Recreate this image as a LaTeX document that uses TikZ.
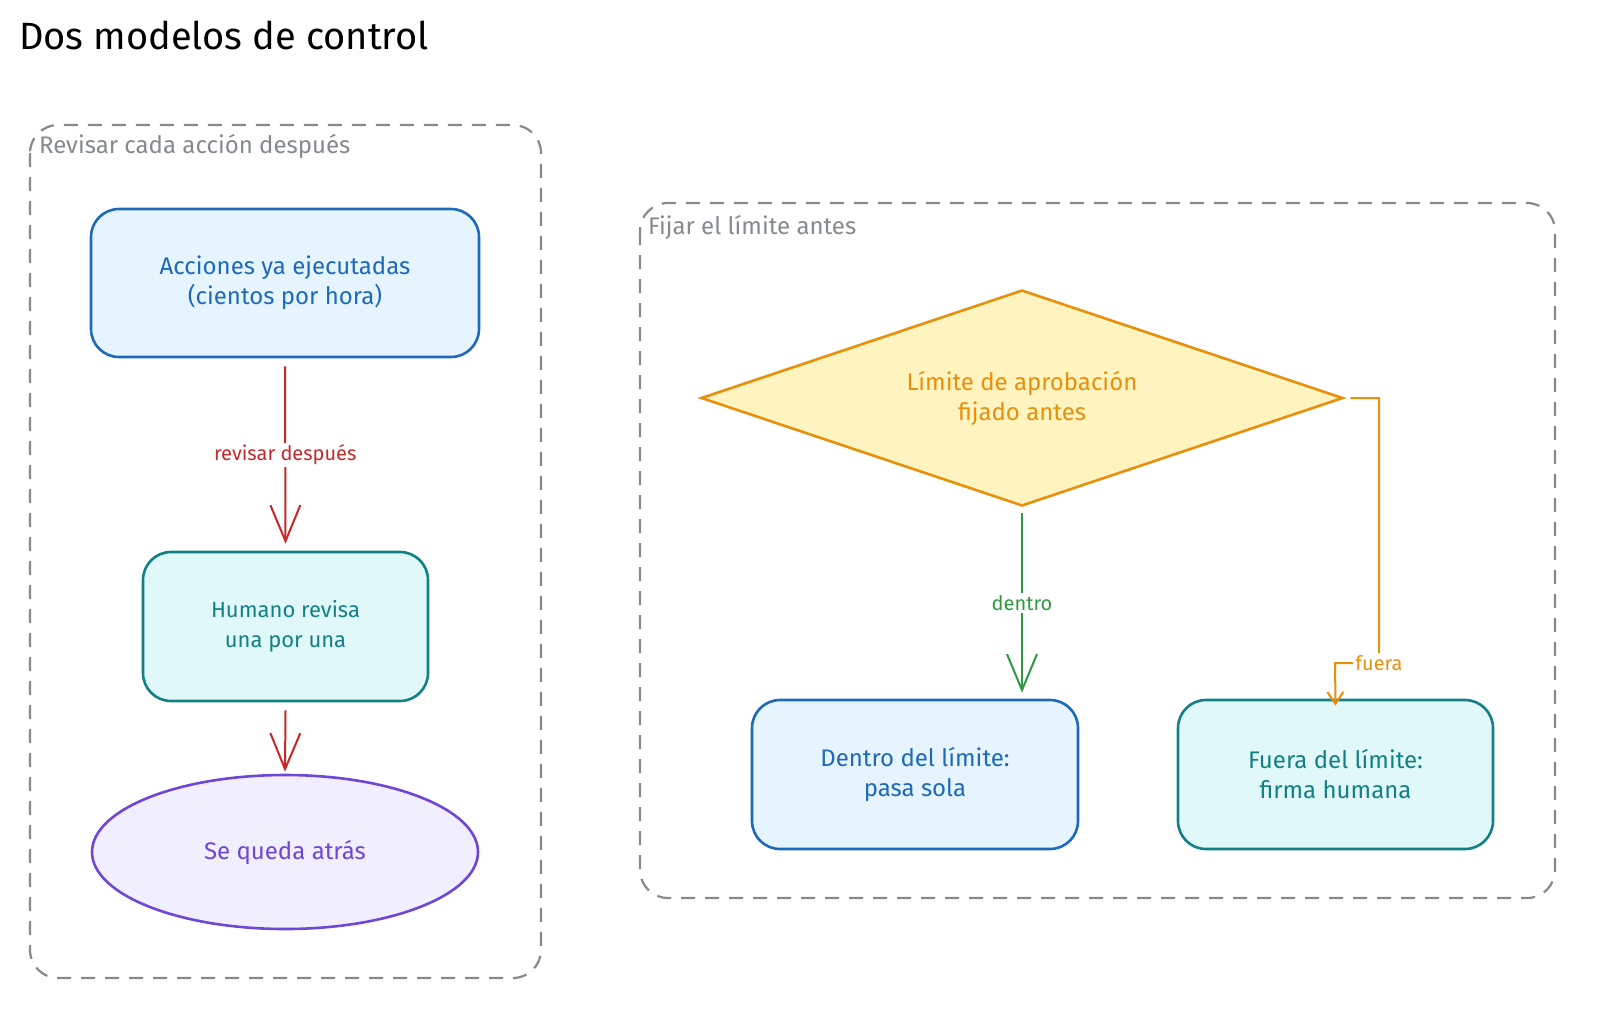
\documentclass[tikz,border=0pt]{standalone}
\usepackage{fontspec}
\setmainfont{Fira Sans}
\usetikzlibrary{shapes.geometric,arrows.meta}
\definecolor{blueS}{HTML}{1E6AB8}\definecolor{blueF}{HTML}{E6F4FD}
\definecolor{tealS}{HTML}{138086}\definecolor{tealF}{HTML}{E0F8F8}
\definecolor{purS}{HTML}{6E47D6}\definecolor{purF}{HTML}{F1EEFD}
\definecolor{orS}{HTML}{E8900C}\definecolor{orF}{HTML}{FFF3C0}
\definecolor{redS}{HTML}{C62828}\definecolor{grS}{HTML}{2E9A40}
\definecolor{grpS}{HTML}{858A90}
\tikzset{
 grp/.style={draw=grpS,dashed,dash pattern=on 7pt off 5pt,line width=1.1pt,rounded corners=14pt},
 grplbl/.style={text=grpS,anchor=west,font=\fontsize{12}{14}\selectfont},
 bluebox/.style={draw=blueS,fill=blueF,line width=1.3pt,rounded corners=14pt,text=blueS,align=center,font=\fontsize{12}{15}\selectfont},
 tealbox/.style={draw=tealS,fill=tealF,line width=1.3pt,rounded corners=14pt,text=tealS,align=center,font=\fontsize{11}{15}\selectfont},
 arr/.style={line width=1pt,-{Straight Barb[length=18pt,width=15pt]}},
 lbl/.style={fill=white,font=\fontsize{10}{12}\selectfont,inner sep=1pt}
}
\begin{document}
\begin{tikzpicture}[x=0.5pt,y=-0.5pt]
\useasboundingbox[fill=white] (0,0) rectangle (1600,1013);
\node[anchor=west,font=\fontsize{19}{22}\selectfont] (title) at (12,35) {Dos modelos de control};
\draw[grp] (30,125) rectangle (541,978);
\node[grplbl] (gl1) at (32,146) {Revisar cada acción después};
\draw[grp] (640,203) rectangle (1555,898);
\node[grplbl] (gl2) at (641,227) {Fijar el límite antes};
\node[bluebox,minimum width=194pt,minimum height=74pt] (a) at (285,283) {Acciones ya ejecutadas\\(cientos por hora)};
\node[tealbox,minimum width=142.5pt,minimum height=74.5pt] (b) at (285.5,626.5) {Humano revisa\\una por una};
\node[ellipse,draw=purS,fill=purF,line width=1.3pt,minimum width=193pt,minimum height=77pt,text=purS,font=\fontsize{12}{15}\selectfont] (c) at (285,852) {Se queda atrás};
\draw[arr,redS] ([yshift=-4pt]a.south) -- ([yshift=3.5pt]b.north) node[lbl,text=redS,pos=0.5] {revisar después};
\draw[arr,redS] ([yshift=-4pt]b.south) -- ([yshift=1pt]c.north);
\node[diamond,draw=orS,fill=orF,line width=1.3pt,minimum width=321pt,minimum height=108pt,aspect=2.97,inner sep=0pt,text=orS,align=center,font=\fontsize{12}{15}\selectfont] (d) at (1022,398) {Límite de aprobación\\fijado antes};
\node[bluebox,minimum width=163pt,minimum height=74.5pt] (e) at (915,774.5) {Dentro del límite:\\pasa sola};
\node[tealbox,font=\fontsize{12}{15}\selectfont,minimum width=157.5pt,minimum height=74.5pt] (f) at (1335.5,774.5) {Fuera del límite:\\firma humana};
\draw[arr,grS] ([yshift=-3pt]d.south) -- ([yshift=3pt]e.north -| d.south) node[lbl,text=grS,pos=0.5] {dentro};
\coordinate (k1) at (1379,398);
\coordinate (k2) at (1379,663);
\coordinate (k3) at (1335,663);
\draw[orS,line width=1pt,-{Straight Barb[length=6pt,width=8pt]}] ([xshift=3pt]d.east) -- (k1) -- (k2) -- node[lbl,text=orS,pos=0,anchor=center] {fuera} (k3) -- ([yshift=-3.5pt]f.north);
\end{tikzpicture}
\end{document}
